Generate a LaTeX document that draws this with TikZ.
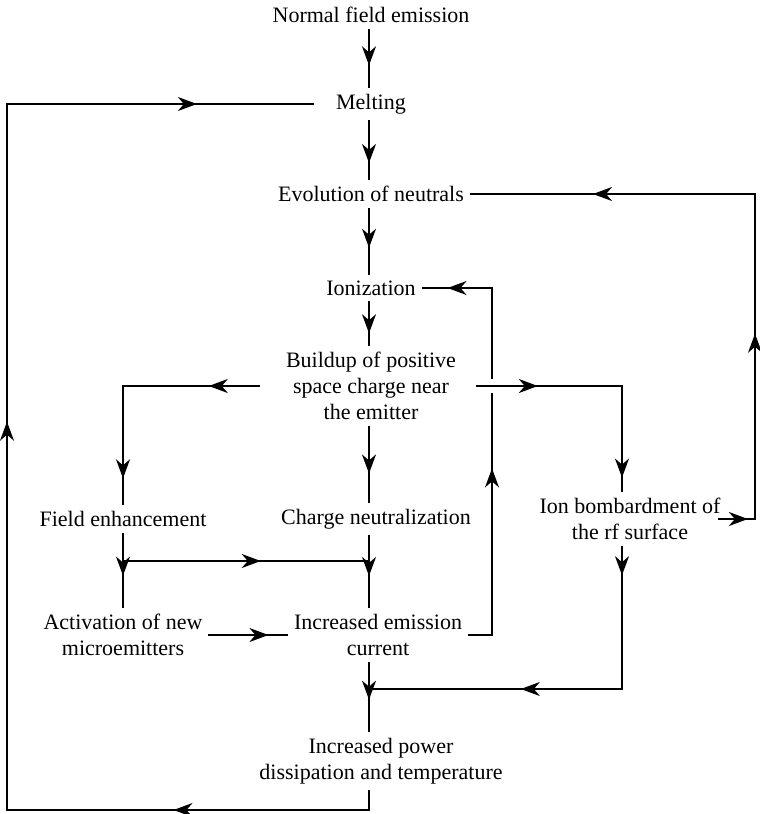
\documentclass[tikz,border=0pt]{standalone}
\usepackage{fontspec}
\setmainfont{Liberation Serif}
\usetikzlibrary{arrows.meta,decorations.markings}
\tikzset{
  lbl/.style={inner sep=3pt, align=center, font=\fontsize{11}{13}\selectfont},
  flow/.style={postaction={decorate}, decoration={markings,
    mark=at position #1 with {\arrow{Stealth[length=9.5pt,width=7pt,inset=3pt]}}}},
  flow/.default=0.6
}
\begin{document}
\begin{tikzpicture}[x=0.5pt, y=-0.5pt, line width=0.9pt, line cap=rect]
  \useasboundingbox (0,0) rectangle (760,814);
  % chain of events
  \node[lbl] (nfe) at (371,15) {Normal field emission};
  \node[lbl] (melt) at (371,104) {Melting};
  \node[lbl] (evol) at (371,194) {Evolution of neutrals};
  \node[lbl] (ion) at (371,288) {Ionization};
  \node[lbl] (build) at (371,386) {Buildup of positive\\space charge near\\the emitter};
  \node[lbl] (field) at (123,519) {Field enhancement};
  \node[lbl] (charge) at (376,519) {Charge neutralization};
  \node[lbl] (bomb) at (630,519) {Ion bombardment of\\the rf surface};
  \node[lbl] (act) at (123,635) {Activation of new\\microemitters};
  \node[lbl] (emis) at (378,635) {Increased emission\\current};
  \node[lbl] (power) at (381,761) {Increased power\\dissipation and temperature};
  % guide lines
  \coordinate (spine) at (369,0);
  \coordinate (bx) at (622,0);
  \coordinate (ix) at (492,0);
  \coordinate (ex) at (755,0);
  \coordinate (j1) at (123,561);
  \coordinate (j2) at (369,561);
  \coordinate (j3) at (369,689);
  \coordinate (lb) at (7,810);
  % main spine
  \draw[flow=0.62] (nfe.south -| spine) -- (melt.north -| spine);
  \draw[flow=0.72] (melt.south -| spine) -- (evol.north -| spine);
  \draw[flow=0.6] (evol.south -| spine) -- (ion.north -| spine);
  \draw[flow=0.72] (ion.south -| spine) -- (build.north -| spine);
  \draw[flow=0.62] (build.south -| spine) -- (charge.north -| spine);
  \draw[flow=0.56] (charge.south -| spine) -- (emis.north -| spine);
  \draw[flow=0.54] (emis.south -| spine) -- (power.north -| spine);
  % left branch
  \draw[flow=0.37] ([xshift=-10pt]build.west) -- (build.west -| field);
  \draw[flow=0.78] (build.west -| field) -- (field.north);
  \draw[flow=0.57] (field.south) -- (act.north);
  \draw[flow=0.56] (j1) -- (j2);
  \draw[flow=0.76] (act.east) -- (emis.west);
  % feedback to ionization
  \draw (emis.east) -- (emis.east -| ix);
  \draw[flow=0.48] (emis.east -| ix) -- (ion.east -| ix);
  \draw[flow=0.64] (ion.east -| ix) -- (ion.east);
  % right branch
  \draw[flow=0.42, preaction={draw=white, line width=7pt, line cap=butt}]
    ([xshift=7pt]build.east) -- (build.east -| bx);
  \draw[flow=0.87] (build.east -| bx) -- (bomb.north -| bx);
  \draw[flow=0.2] (bomb.south -| bx) -- (bx |- j3);
  \draw[flow=0.4] (bx |- j3) -- (j3);
  % feedback to neutrals
  \draw[flow=0.8] ([xshift=-4pt]bomb.east) -- (bomb.east -| ex);
  \draw[flow=0.57] (bomb.east -| ex) -- (evol.east -| ex);
  \draw[flow=0.57] (evol.east -| ex) -- (evol.east);
  % feedback to melting
  \draw (power.south -| spine) -- (spine |- lb);
  \draw[flow=0.54] (spine |- lb) -- (lb);
  \draw[flow=0.55] (lb) -- (lb |- melt.west);
  \draw[flow=0.62] (lb |- melt.west) -- ([xshift=-8pt]melt.west);
\end{tikzpicture}
\end{document}
